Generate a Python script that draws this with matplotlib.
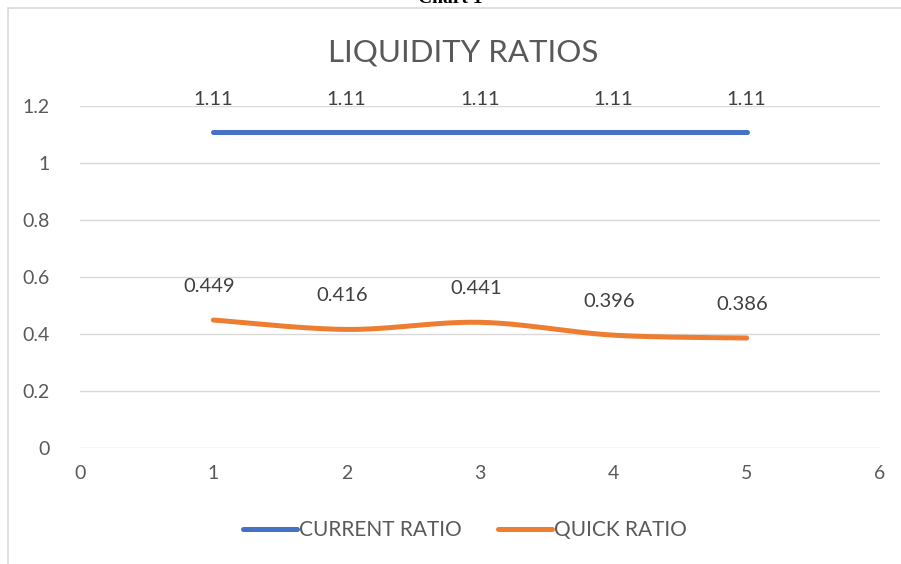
import numpy as np
import matplotlib.pyplot as plt
from matplotlib.patches import Rectangle

years = [1, 2, 3, 4, 5]
current_ratio = [1.11, 1.11, 1.11, 1.11, 1.11]
quick_ratio = [0.449, 0.416, 0.441, 0.396, 0.386]
current_labels = ["1.11", "1.11", "1.11", "1.11", "1.11"]
quick_labels = ["0.449", "0.416", "0.441", "0.396", "0.386"]


def smooth(x, y, n=40):
    # excel-like smoothed line: cubic bezier with catmull-rom control points
    x = np.asarray(x, float)
    y = np.asarray(y, float)
    px = np.concatenate([[x[0]], x, [x[-1]]])
    py = np.concatenate([[y[0]], y, [y[-1]]])
    xs, ys = [], []
    t = np.linspace(0, 1, n)
    for i in range(1, len(px) - 2):
        p0 = np.array([px[i], py[i]])
        p3 = np.array([px[i + 1], py[i + 1]])
        c1 = p0 + (np.array([px[i + 1], py[i + 1]]) - np.array([px[i - 1], py[i - 1]])) / 6
        c2 = p3 - (np.array([px[i + 2], py[i + 2]]) - np.array([px[i], py[i]])) / 6
        b = ((1 - t) ** 3)[:, None] * p0 + (3 * (1 - t) ** 2 * t)[:, None] * c1 \
            + (3 * (1 - t) * t ** 2)[:, None] * c2 + (t ** 3)[:, None] * p3
        xs.extend(b[:, 0])
        ys.extend(b[:, 1])
    return xs, ys


plt.rcParams['font.family'] = ['Lato', 'DejaVu Sans']
fig = plt.figure(figsize=(9.01, 5.64), dpi=100)
ax = fig.add_axes([80 / 901, 1 - 448 / 564, 800 / 901, 342 / 564])

blue = '#4472C4'
orange = '#ED7D31'
cx, cy = smooth(years, current_ratio)
qx, qy = smooth(years, quick_ratio)
ax.plot(cx, cy, color=blue, lw=3.6, solid_capstyle='round', label='CURRENT RATIO')
ax.plot(qx, qy, color=orange, lw=3.6, solid_capstyle='round', label='QUICK RATIO')

for x, y, s in zip(years, current_ratio, current_labels):
    ax.annotate(s, (x, y), xytext=(0, 17), textcoords='offset points',
                ha='center', va='bottom', fontsize=14.5, color='#404040')
for x, y, s in zip(years, quick_ratio, quick_labels):
    ax.annotate(s, (x, y), xytext=(-3, 18), textcoords='offset points',
                ha='center', va='bottom', fontsize=14.5, color='#404040')

ax.set_xlim(0, 6)
ax.set_ylim(0, 1.2)
ax.set_xticks(range(0, 7))
ax.set_yticks([0, 0.2, 0.4, 0.6, 0.8, 1.0, 1.2])
ax.set_yticklabels(['0', '0.2', '0.4', '0.6', '0.8', '1', '1.2'])
ax.tick_params(length=0, labelsize=14, labelcolor='#595959', pad=12)
ax.tick_params(axis='y', pad=22)
ax.grid(axis='y', color='#D9D9D9', lw=1)
ax.set_axisbelow(True)
for sp in ax.spines.values():
    sp.set_visible(False)

fig.text(463 / 901, 1 - 52 / 564, 'LIQUIDITY RATIOS', ha='center', va='center',
         fontsize=22.5, color='#595959')

fig.legend(loc='center', bbox_to_anchor=(465 / 901, 1 - 530 / 564), ncol=2, frameon=False,
           fontsize=15, labelcolor='#595959', handlelength=2.6, columnspacing=1.7,
           handletextpad=0.1)

fig.patches.append(Rectangle((8 / 901, -0.1), 1.2, 1 - 8 / 564 + 0.1, transform=fig.transFigure,
                             fill=False, edgecolor='#D9D9D9', lw=1.2))
fig.text(0.5, 1.003, 'Chart 1', ha='center', va='center', fontsize=14,
         fontweight='bold', family='Liberation Serif')

fig.savefig('out.png', dpi=100)
